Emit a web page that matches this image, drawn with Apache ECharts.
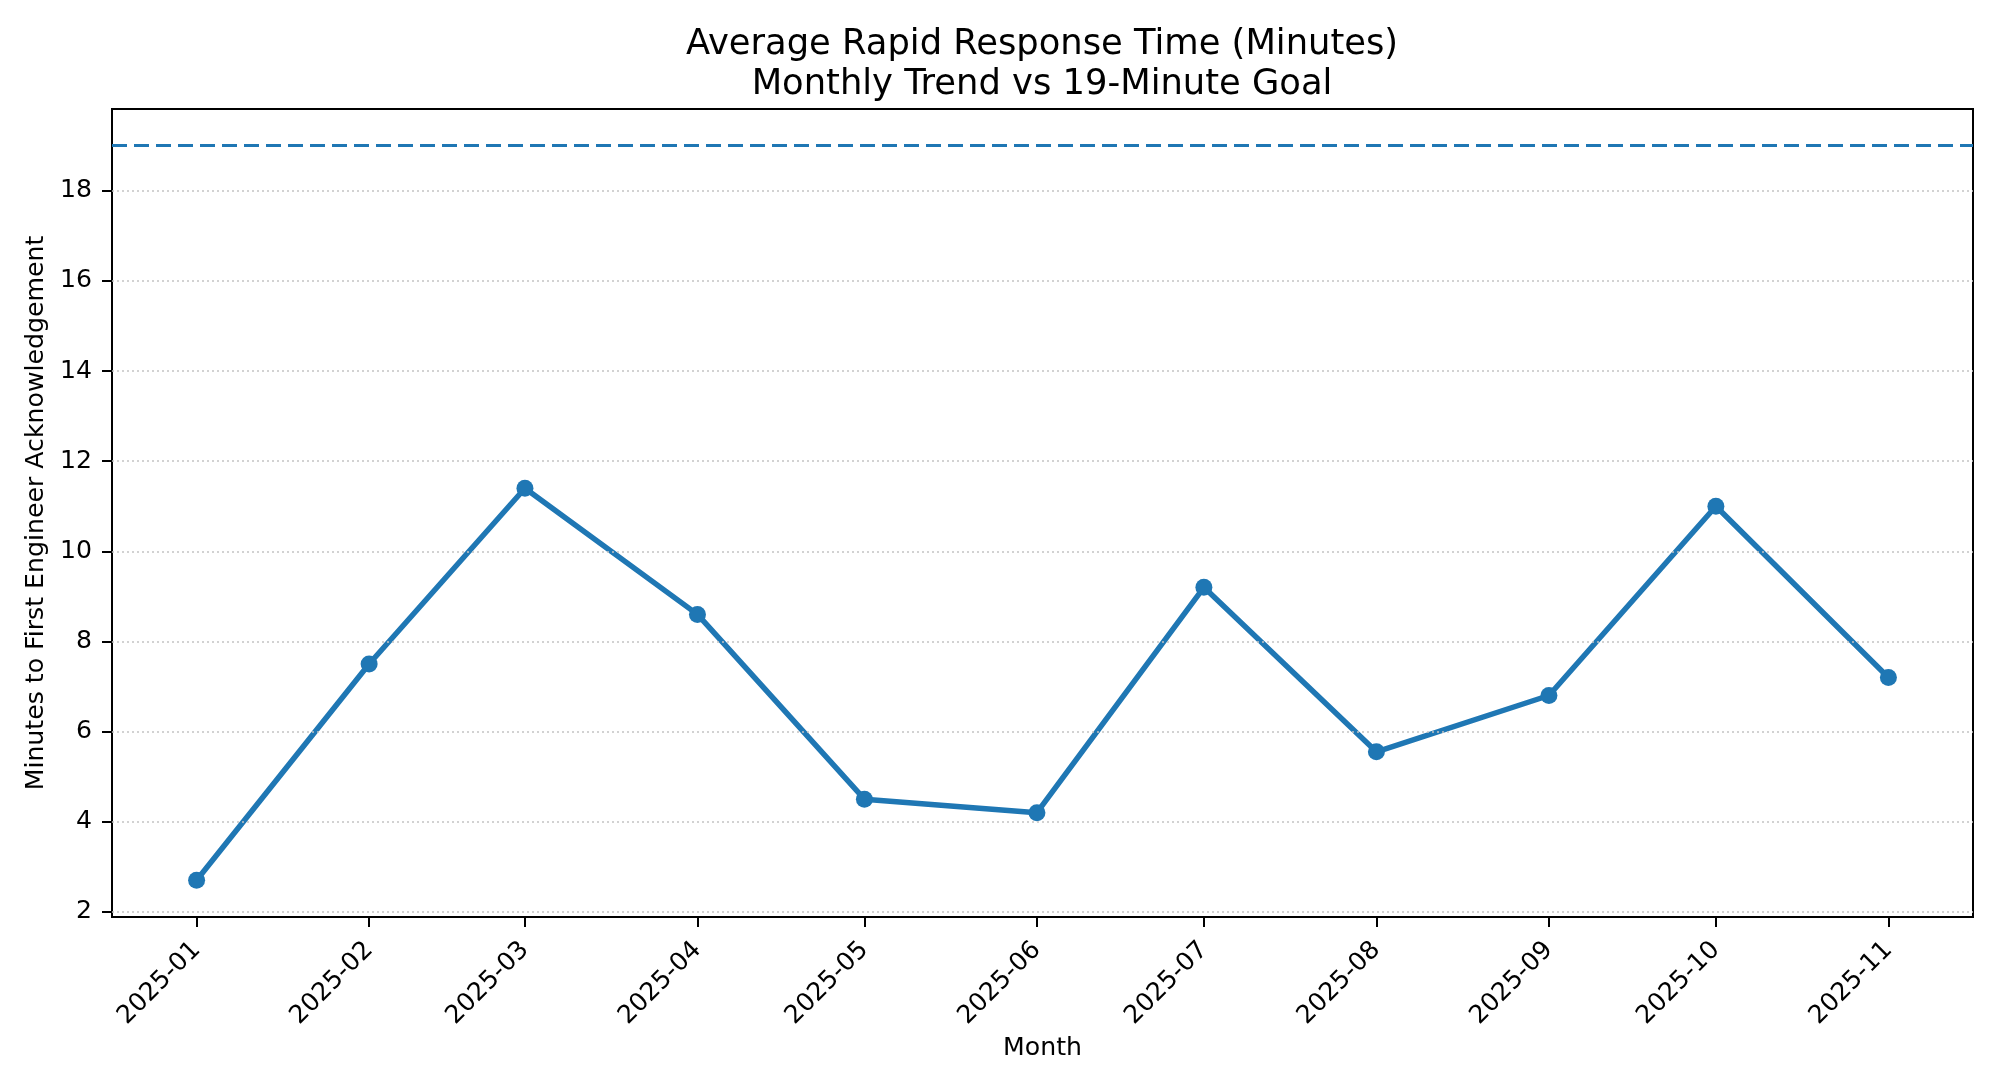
<!DOCTYPE html>
<html>
<head>
<meta charset="utf-8">
<script src="https://cdn.jsdelivr.net/npm/echarts@6/dist/echarts.min.js"></script>
<style>
html,body{margin:0;padding:0;background:#fff;}
#chart{width:2000px;height:1090px;}
</style>
</head>
<body>
<div id="chart"></div>
<script>
const months = ['2025-01','2025-02','2025-03','2025-04','2025-05','2025-06','2025-07','2025-08','2025-09','2025-10','2025-11'];
const responseMinutes = [2.7, 7.5, 11.4, 8.6, 4.5, 4.2, 9.2, 5.55, 6.8, 11.0, 7.2];
const goalMinutes = 19;
const yTicks = [2, 4, 6, 8, 10, 12, 14, 16, 18];
const titleLines = ['Average Rapid Response Time (Minutes)', 'Monthly Trend vs 19-Minute Goal'];

// x positions: days since 2025-01-01 (calendar spacing, like a date axis)
function monthDay(s) {
  const p = s.split('-');
  return Math.round((Date.UTC(+p[0], +p[1] - 1, 1) - Date.UTC(+p[0], 0, 1)) / 86400000);
}
const monthDays = months.map(monthDay);
const labelByDay = {};
months.forEach((m, i) => { labelByDay[monthDays[i]] = m; });

const allY = responseMinutes.concat([goalMinutes]);
const yLo = Math.min.apply(null, allY), yHi = Math.max.apply(null, allY);
const yPad = (yHi - yLo) * 0.05;
const xLo = monthDays[0], xHi = monthDays[monthDays.length - 1];
const xPad = (xHi - xLo) * 0.05;

const FONT = 'DejaVu Sans';
const TICK_FS = 25.2;
const seriesData = months.map((m, i) => [monthDays[i], responseMinutes[i]]);
const chart = echarts.init(document.getElementById('chart'));
chart.setOption({
  backgroundColor: '#ffffff',
  animation: false,
  title: {
    text: titleLines.join('\n'),
    left: 1042,
    top: 25,
    padding: 0,
    textAlign: 'center',
    textStyle: { fontFamily: FONT, fontSize: 35.3, fontWeight: 'normal', color: '#000', lineHeight: 40 }
  },
  grid: {
    left: 112, right: 27, top: 109, bottom: 173,
    show: true, borderColor: '#000', borderWidth: 2, backgroundColor: 'transparent'
  },
  xAxis: {
    type: 'value',
    min: xLo - xPad,
    max: xHi + xPad,
    name: 'Month',
    nameLocation: 'middle',
    nameGap: 118,
    nameTextStyle: { fontFamily: FONT, fontSize: TICK_FS, color: '#000' },
    axisLine: { show: true, onZero: false, lineStyle: { color: '#000', width: 2 } },
    axisTick: { show: true, customValues: monthDays, length: 10, lineStyle: { color: '#000', width: 2 } },
    axisLabel: {
      customValues: monthDays,
      rotate: 45,
      margin: 29,
      fontFamily: FONT, fontSize: TICK_FS, color: '#000',
      formatter: function (v) { return labelByDay[Math.round(v)] || ''; }
    },
    splitLine: { show: false }
  },
  yAxis: {
    type: 'value',
    min: yLo - yPad,
    max: yHi + yPad,
    name: 'Minutes to First Engineer Acknowledgement',
    nameLocation: 'middle',
    nameRotate: 90,
    nameGap: 54,
    nameTextStyle: { fontFamily: FONT, fontSize: TICK_FS, color: '#000' },
    axisLine: { show: true, onZero: false, lineStyle: { color: '#000', width: 2 } },
    axisTick: { show: true, customValues: yTicks, length: 10, lineStyle: { color: '#000', width: 2 } },
    axisLabel: { customValues: yTicks, margin: 20, fontFamily: FONT, fontSize: TICK_FS, color: '#000' },
    splitLine: { show: false }
  },
  series: [
    {
      name: 'grid',
      type: 'line',
      z: 1,
      silent: true,
      symbol: 'none',
      lineStyle: { opacity: 0 },
      data: seriesData,
      markLine: {
        silent: true,
        symbol: 'none',
        label: { show: false },
        data: yTicks.map(t => ({ yAxis: t, lineStyle: { color: '#c4c4c4', width: 1.5, type: [2, 3] } }))
          .concat([{ yAxis: goalMinutes, lineStyle: { color: '#1f77b4', width: 3.2, type: [15, 7] } }])
      }
    },
    {
      name: 'Average response',
      type: 'line',
      z: 3,
      data: seriesData,
      symbol: 'circle',
      symbolSize: 17,
      itemStyle: { color: '#1f77b4' },
      lineStyle: { color: '#1f77b4', width: 5.5 }
    }
  ]
});
</script>
</body>
</html>
